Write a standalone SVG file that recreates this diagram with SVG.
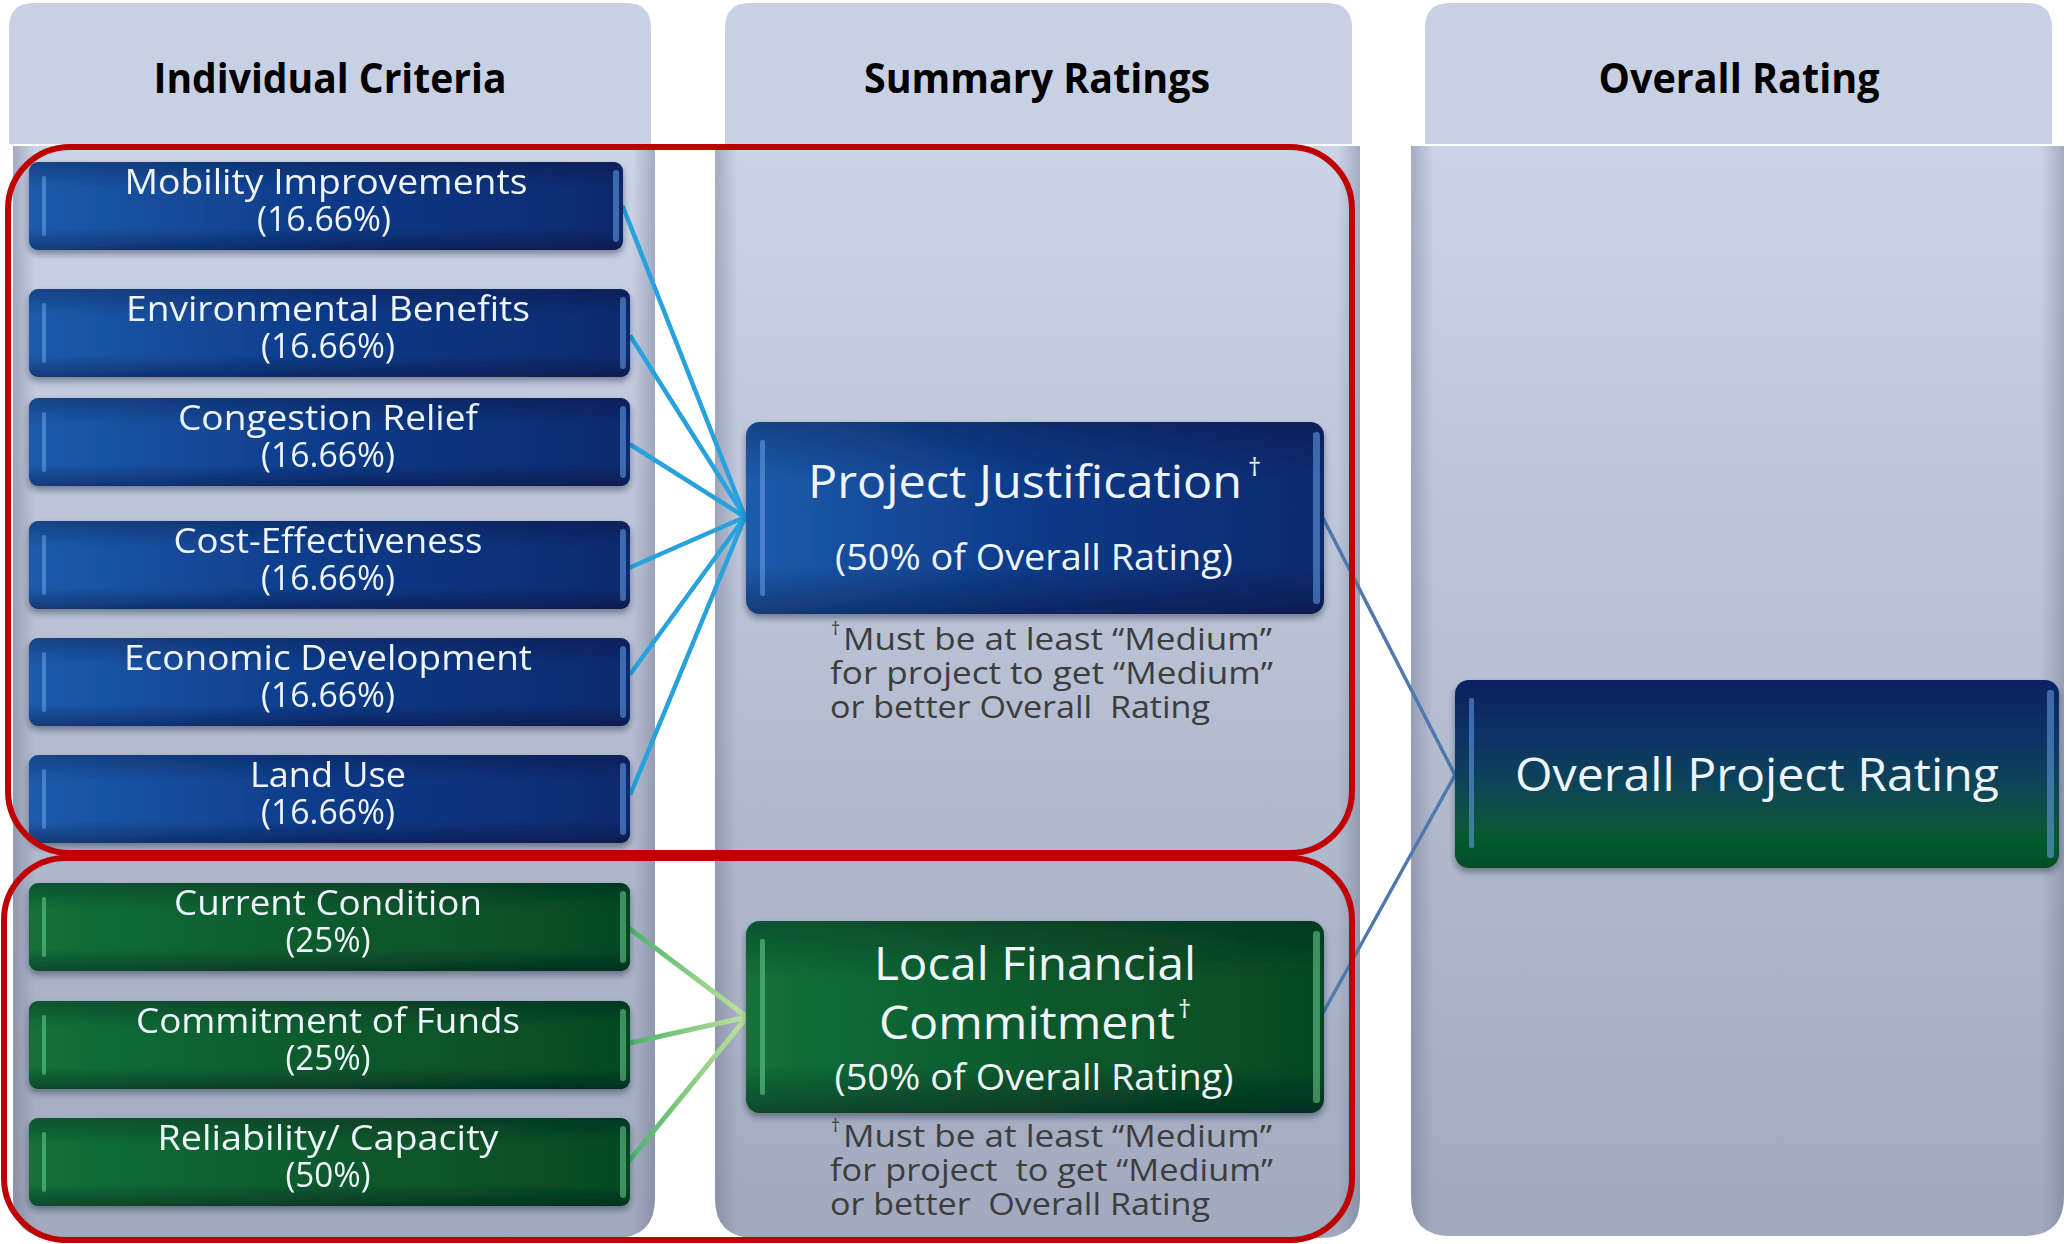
<svg xmlns="http://www.w3.org/2000/svg" width="2066" height="1244" viewBox="0 0 2066 1244">
  <defs>
    <linearGradient id="colBody" x1="0" y1="0" x2="0" y2="1">
      <stop offset="0" stop-color="#cbd3e6"/>
      <stop offset="1" stop-color="#a1a9be"/>
    </linearGradient>
    <linearGradient id="colEdge" x1="0" y1="0" x2="1" y2="0">
      <stop offset="0" stop-color="#5a6480" stop-opacity="0.35"/>
      <stop offset="0.035" stop-color="#5a6480" stop-opacity="0"/>
      <stop offset="0.965" stop-color="#5a6480" stop-opacity="0"/>
      <stop offset="1" stop-color="#5a6480" stop-opacity="0.35"/>
    </linearGradient>
    <linearGradient id="blueFill" x1="0" y1="0" x2="1" y2="0">
      <stop offset="0" stop-color="#1d5bab"/>
      <stop offset="0.5" stop-color="#0e3a88"/>
      <stop offset="1" stop-color="#0a2a6e"/>
    </linearGradient>
    <linearGradient id="greenFill" x1="0" y1="0" x2="1" y2="0">
      <stop offset="0" stop-color="#137038"/>
      <stop offset="0.5" stop-color="#0a5a2d"/>
      <stop offset="1" stop-color="#064a24"/>
    </linearGradient>
    <linearGradient id="shade" x1="0" y1="0" x2="0" y2="1">
      <stop offset="0" stop-color="#000018" stop-opacity="0.25"/>
      <stop offset="0.3" stop-color="#000018" stop-opacity="0"/>
      <stop offset="0.75" stop-color="#000018" stop-opacity="0"/>
      <stop offset="1" stop-color="#000018" stop-opacity="0.35"/>
    </linearGradient>
    <linearGradient id="overallFill" x1="0" y1="0" x2="0" y2="1">
      <stop offset="0" stop-color="#0a2260"/>
      <stop offset="0.3" stop-color="#0b3266"/>
      <stop offset="0.55" stop-color="#0b4458"/>
      <stop offset="0.85" stop-color="#065a2e"/>
      <stop offset="1" stop-color="#054e28"/>
    </linearGradient>
    <linearGradient id="greenLine" gradientUnits="userSpaceOnUse" x1="630" y1="0" x2="747" y2="0">
      <stop offset="0" stop-color="#4cb36c"/>
      <stop offset="1" stop-color="#c2e2a0"/>
    </linearGradient>
    <filter id="sh" x="-5%" y="-15%" width="110%" height="140%">
      <feDropShadow dx="0" dy="4" stdDeviation="3" flood-color="#1a2030" flood-opacity="0.45"/>
    </filter>
    <style>
      .hdr { fill:#c8d0e3; }
      .htxt { font-family:"Open Sans","Liberation Sans",sans-serif; font-weight:bold; font-size:42px; fill:#000; text-anchor:middle; }
      .btxt { font-family:"Open Sans","Liberation Sans",sans-serif; font-size:34px; fill:#eef4fa; text-anchor:middle; }
      .big { font-family:"Open Sans","Liberation Sans",sans-serif; font-size:46px; fill:#eef4fa; text-anchor:middle; }
      .mid { font-family:"Open Sans","Liberation Sans",sans-serif; font-size:36px; fill:#eef4fa; text-anchor:middle; }
      .dag { font-family:"Open Sans","Liberation Sans",sans-serif; font-size:26px; fill:#eef4fa; }
      .note { font-family:"Open Sans","Liberation Sans",sans-serif; font-size:31px; fill:#3d3d3d; white-space:pre; }
      .ndag { font-family:"Open Sans","Liberation Sans",sans-serif; font-size:18px; fill:#3d3d3d; }
      .blueBox { fill:url(#blueFill); }
      .greenBox { fill:url(#greenFill); }
      .shadeBox { fill:url(#shade); }
      .hl { fill:#6aa0e8; opacity:0.55; }
      .hlg { fill:#6cd090; opacity:0.55; }
      .cblue { stroke:#27a2dc; stroke-width:4.5; fill:none; stroke-linecap:round; }
      .cgreen { stroke:url(#greenLine); stroke-width:5; fill:none; stroke-linecap:round; }
      .cdark { stroke:#4f78ad; stroke-width:3.5; fill:none; }
      .red { fill:none; stroke:#c00000; stroke-width:6; }
    </style>
  </defs>

  <rect width="2066" height="1244" fill="#ffffff"/>

  <!-- Columns -->
  <g id="col-individual">
    <path class="hdr" d="M9,144 V28 Q9,3 34,3 H626 Q651,3 651,28 V144 Z"/>
    <path fill="url(#colBody)" d="M13,146 H655 V1198 Q655,1238 615,1238 H53 Q13,1238 13,1198 Z"/>
    <path fill="url(#colEdge)" d="M13,146 H655 V1198 Q655,1238 615,1238 H53 Q13,1238 13,1198 Z"/>
    <text class="htxt" x="330" y="93" textLength="353" lengthAdjust="spacingAndGlyphs">Individual Criteria</text>
  </g>
  <g id="col-summary">
    <path class="hdr" d="M725,144 V28 Q725,3 750,3 H1327 Q1352,3 1352,28 V144 Z"/>
    <path fill="url(#colBody)" d="M715,146 H1360 V1198 Q1360,1238 1320,1238 H755 Q715,1238 715,1198 Z"/>
    <path fill="url(#colEdge)" d="M715,146 H1360 V1198 Q1360,1238 1320,1238 H755 Q715,1238 715,1198 Z"/>
    <text class="htxt" x="1037" y="93" textLength="346" lengthAdjust="spacingAndGlyphs">Summary Ratings</text>
  </g>
  <g id="col-overall">
    <path class="hdr" d="M1425,144 V28 Q1425,3 1450,3 H2027 Q2052,3 2052,28 V144 Z"/>
    <path fill="url(#colBody)" d="M1411,146 H2064 V1196 Q2064,1236 2024,1236 H1451 Q1411,1236 1411,1196 Z"/>
    <path fill="url(#colEdge)" d="M1411,146 H2064 V1196 Q2064,1236 2024,1236 H1451 Q1411,1236 1411,1196 Z"/>
    <text class="htxt" x="1739" y="93" textLength="281" lengthAdjust="spacingAndGlyphs">Overall Rating</text>
  </g>

  <!-- Connectors -->
  <g id="connectors">
    <line class="cblue" x1="623" y1="207" x2="745" y2="517"/>
    <line class="cblue" x1="631" y1="337" x2="745" y2="517"/>
    <line class="cblue" x1="631" y1="445" x2="745" y2="517"/>
    <line class="cblue" x1="631" y1="567" x2="745" y2="517"/>
    <line class="cblue" x1="631" y1="673" x2="745" y2="517"/>
    <line class="cblue" x1="631" y1="793" x2="745" y2="517"/>
    <line class="cgreen" x1="630" y1="929" x2="747" y2="1017"/>
    <line class="cgreen" x1="630" y1="1043" x2="747" y2="1017"/>
    <line class="cgreen" x1="630" y1="1160" x2="747" y2="1017"/>
    <line class="cdark" x1="1323" y1="518" x2="1455" y2="775"/>
    <line class="cdark" x1="1323" y1="1013" x2="1455" y2="775"/>
  </g>

  <!-- Criteria nodes -->
  <g id="n-mobility" filter="url(#sh)">
    <rect class="blueBox" x="29" y="162" width="594" height="88" rx="9"/>
    <rect class="shadeBox" x="29" y="162" width="594" height="88" rx="9"/>
    <rect class="hl" x="42" y="176" width="4" height="60" rx="2"/>
    <rect class="hl" x="613" y="170" width="6" height="72" rx="3"/>
    <text class="btxt"><tspan x="326" y="194" textLength="403" lengthAdjust="spacingAndGlyphs">Mobility Improvements</tspan><tspan x="324" y="231" textLength="134" lengthAdjust="spacingAndGlyphs">(16.66%)</tspan></text>
  </g>
  <g id="n-environmental" filter="url(#sh)">
    <rect class="blueBox" x="29" y="289" width="601" height="88" rx="9"/>
    <rect class="shadeBox" x="29" y="289" width="601" height="88" rx="9"/>
    <rect class="hl" x="42" y="303" width="4" height="60" rx="2"/>
    <rect class="hl" x="620" y="297" width="6" height="72" rx="3"/>
    <text class="btxt"><tspan x="328" y="321" textLength="404" lengthAdjust="spacingAndGlyphs">Environmental Benefits</tspan><tspan x="328" y="358" textLength="134" lengthAdjust="spacingAndGlyphs">(16.66%)</tspan></text>
  </g>
  <g id="n-congestion" filter="url(#sh)">
    <rect class="blueBox" x="29" y="398" width="601" height="88" rx="9"/>
    <rect class="shadeBox" x="29" y="398" width="601" height="88" rx="9"/>
    <rect class="hl" x="42" y="412" width="4" height="60" rx="2"/>
    <rect class="hl" x="620" y="406" width="6" height="72" rx="3"/>
    <text class="btxt"><tspan x="328" y="430" textLength="300" lengthAdjust="spacingAndGlyphs">Congestion Relief</tspan><tspan x="328" y="467" textLength="134" lengthAdjust="spacingAndGlyphs">(16.66%)</tspan></text>
  </g>
  <g id="n-cost" filter="url(#sh)">
    <rect class="blueBox" x="29" y="521" width="601" height="88" rx="9"/>
    <rect class="shadeBox" x="29" y="521" width="601" height="88" rx="9"/>
    <rect class="hl" x="42" y="535" width="4" height="60" rx="2"/>
    <rect class="hl" x="620" y="529" width="6" height="72" rx="3"/>
    <text class="btxt"><tspan x="328" y="553" textLength="309" lengthAdjust="spacingAndGlyphs">Cost-Effectiveness</tspan><tspan x="328" y="590" textLength="134" lengthAdjust="spacingAndGlyphs">(16.66%)</tspan></text>
  </g>
  <g id="n-economic" filter="url(#sh)">
    <rect class="blueBox" x="29" y="638" width="601" height="88" rx="9"/>
    <rect class="shadeBox" x="29" y="638" width="601" height="88" rx="9"/>
    <rect class="hl" x="42" y="652" width="4" height="60" rx="2"/>
    <rect class="hl" x="620" y="646" width="6" height="72" rx="3"/>
    <text class="btxt"><tspan x="328" y="670" textLength="408" lengthAdjust="spacingAndGlyphs">Economic Development</tspan><tspan x="328" y="707" textLength="134" lengthAdjust="spacingAndGlyphs">(16.66%)</tspan></text>
  </g>
  <g id="n-landuse" filter="url(#sh)">
    <rect class="blueBox" x="29" y="755" width="601" height="88" rx="9"/>
    <rect class="shadeBox" x="29" y="755" width="601" height="88" rx="9"/>
    <rect class="hl" x="42" y="769" width="4" height="60" rx="2"/>
    <rect class="hl" x="620" y="763" width="6" height="72" rx="3"/>
    <text class="btxt"><tspan x="328" y="787" textLength="156" lengthAdjust="spacingAndGlyphs">Land Use</tspan><tspan x="328" y="824" textLength="134" lengthAdjust="spacingAndGlyphs">(16.66%)</tspan></text>
  </g>
  <g id="n-current" filter="url(#sh)">
    <rect class="greenBox" x="29" y="883" width="601" height="88" rx="9"/>
    <rect class="shadeBox" x="29" y="883" width="601" height="88" rx="9"/>
    <rect class="hlg" x="42" y="897" width="4" height="60" rx="2"/>
    <rect class="hlg" x="620" y="891" width="6" height="72" rx="3"/>
    <text class="btxt"><tspan x="328" y="915" textLength="308" lengthAdjust="spacingAndGlyphs">Current Condition</tspan><tspan x="328" y="952" textLength="85" lengthAdjust="spacingAndGlyphs">(25%)</tspan></text>
  </g>
  <g id="n-commitment" filter="url(#sh)">
    <rect class="greenBox" x="29" y="1001" width="601" height="88" rx="9"/>
    <rect class="shadeBox" x="29" y="1001" width="601" height="88" rx="9"/>
    <rect class="hlg" x="42" y="1015" width="4" height="60" rx="2"/>
    <rect class="hlg" x="620" y="1009" width="6" height="72" rx="3"/>
    <text class="btxt"><tspan x="328" y="1033" textLength="384" lengthAdjust="spacingAndGlyphs">Commitment of Funds</tspan><tspan x="328" y="1070" textLength="85" lengthAdjust="spacingAndGlyphs">(25%)</tspan></text>
  </g>
  <g id="n-reliability" filter="url(#sh)">
    <rect class="greenBox" x="29" y="1118" width="601" height="88" rx="9"/>
    <rect class="shadeBox" x="29" y="1118" width="601" height="88" rx="9"/>
    <rect class="hlg" x="42" y="1132" width="4" height="60" rx="2"/>
    <rect class="hlg" x="620" y="1126" width="6" height="72" rx="3"/>
    <text class="btxt"><tspan x="328" y="1150" textLength="341" lengthAdjust="spacingAndGlyphs">Reliability/ Capacity</tspan><tspan x="328" y="1187" textLength="85" lengthAdjust="spacingAndGlyphs">(50%)</tspan></text>
  </g>

  <!-- Summary nodes -->
  <g id="n-project-justification">
    <g filter="url(#sh)">
      <rect class="blueBox" x="746" y="422" width="578" height="192" rx="14"/>
      <rect class="shadeBox" x="746" y="422" width="578" height="192" rx="14"/>
      <rect class="hl" x="760" y="440" width="5" height="156" rx="2"/>
      <rect class="hl" x="1313" y="432" width="7" height="172" rx="3"/>
    </g>
    <text class="big" x="1025" y="498" textLength="434" lengthAdjust="spacingAndGlyphs">Project Justification</text>
    <text class="dag" x="1248" y="476">†</text>
    <text class="mid" x="1034" y="570" textLength="398" lengthAdjust="spacingAndGlyphs">(50% of Overall Rating)</text>
    <text class="note"><tspan class="ndag" x="831" y="635">†</tspan><tspan x="843" y="650" textLength="429" lengthAdjust="spacingAndGlyphs">Must be at least “Medium”</tspan><tspan x="830" y="684" textLength="443" lengthAdjust="spacingAndGlyphs">for project to get “Medium”</tspan><tspan x="830" y="718" textLength="380" lengthAdjust="spacingAndGlyphs">or better Overall  Rating</tspan></text>
  </g>
  <g id="n-local-financial">
    <g filter="url(#sh)">
      <rect class="greenBox" x="746" y="921" width="578" height="192" rx="14"/>
      <rect class="shadeBox" x="746" y="921" width="578" height="192" rx="14"/>
      <rect class="hlg" x="760" y="939" width="5" height="156" rx="2"/>
      <rect class="hlg" x="1313" y="931" width="7" height="172" rx="3"/>
    </g>
    <text class="big"><tspan x="1035" y="980" textLength="322" lengthAdjust="spacingAndGlyphs">Local Financial</tspan><tspan x="1027" y="1039" textLength="296" lengthAdjust="spacingAndGlyphs">Commitment</tspan></text>
    <text class="dag" x="1178" y="1018">†</text>
    <text class="mid" x="1034" y="1090" textLength="399" lengthAdjust="spacingAndGlyphs">(50% of Overall Rating)</text>
    <text class="note"><tspan class="ndag" x="831" y="1132">†</tspan><tspan x="843" y="1147" textLength="429" lengthAdjust="spacingAndGlyphs">Must be at least “Medium”</tspan><tspan x="830" y="1181" textLength="443" lengthAdjust="spacingAndGlyphs">for project  to get “Medium”</tspan><tspan x="830" y="1215" textLength="380" lengthAdjust="spacingAndGlyphs">or better  Overall Rating</tspan></text>
  </g>

  <!-- Overall node -->
  <g id="n-overall">
    <g filter="url(#sh)">
      <rect fill="url(#overallFill)" x="1455" y="680" width="604" height="188" rx="14"/>
      <rect class="hl" x="1469" y="698" width="5" height="150" rx="2" opacity="0.4"/>
      <rect class="hl" x="2047" y="690" width="7" height="168" rx="3" opacity="0.4"/>
    </g>
    <text class="big" x="1757" y="791" textLength="484" lengthAdjust="spacingAndGlyphs">Overall Project Rating</text>
  </g>

  <!-- Red groupings -->
  <g id="groupings">
    <rect class="red" x="8" y="147" width="1344" height="706" rx="62"/>
    <rect class="red" x="4" y="858" width="1348" height="382" rx="62"/>
  </g>
</svg>
